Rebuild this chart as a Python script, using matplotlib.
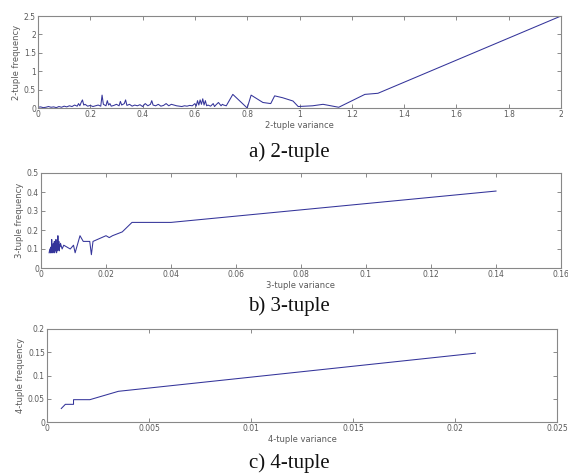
import matplotlib
matplotlib.use("Agg")
import matplotlib.pyplot as plt

# ---- data: 2-tuple ----
x2 = [0.00, 0.01, 0.02, 0.03, 0.04, 0.05, 0.06, 0.07, 0.08, 0.09, 0.10, 0.11,
      0.12, 0.13, 0.14, 0.15, 0.155, 0.16, 0.165, 0.17, 0.175, 0.18, 0.19, 0.20,
      0.21, 0.22, 0.23, 0.24, 0.245, 0.25, 0.26, 0.265, 0.27, 0.275, 0.28, 0.29,
      0.30, 0.31, 0.315, 0.32, 0.33, 0.335, 0.34, 0.35, 0.36, 0.37, 0.38, 0.39,
      0.40, 0.41, 0.42, 0.43, 0.435, 0.44, 0.45, 0.46, 0.47, 0.48, 0.49, 0.50,
      0.51, 0.52, 0.53, 0.54, 0.55, 0.56, 0.57, 0.58, 0.59, 0.60, 0.605, 0.61,
      0.615, 0.62, 0.625, 0.63, 0.635, 0.64, 0.645, 0.65, 0.66, 0.67, 0.675,
      0.68, 0.69, 0.70, 0.705, 0.71, 0.72, 0.745, 0.80, 0.815, 0.86, 0.89,
      0.905, 0.935, 0.975, 0.995, 1.05, 1.09, 1.15, 1.25, 1.30, 2.00]
y2 = [0.02, 0.03, 0.01, 0.02, 0.04, 0.02, 0.03, 0.01, 0.04, 0.02, 0.05, 0.03,
      0.06, 0.04, 0.08, 0.05, 0.12, 0.06, 0.15, 0.22, 0.08, 0.10, 0.05, 0.07,
      0.04, 0.06, 0.08, 0.05, 0.35, 0.10, 0.06, 0.20, 0.08, 0.12, 0.05, 0.07,
      0.10, 0.06, 0.18, 0.08, 0.12, 0.22, 0.07, 0.10, 0.05, 0.08, 0.06, 0.09,
      0.04, 0.12, 0.06, 0.10, 0.20, 0.08, 0.06, 0.10, 0.05, 0.07, 0.12, 0.06,
      0.10, 0.08, 0.06, 0.05, 0.04, 0.06, 0.05, 0.07, 0.06, 0.12, 0.05, 0.20,
      0.08, 0.22, 0.10, 0.25, 0.08, 0.20, 0.06, 0.08, 0.05, 0.12, 0.04, 0.08,
      0.15, 0.06, 0.10, 0.08, 0.06, 0.37, 0.00, 0.35, 0.15, 0.12,
      0.33, 0.28, 0.19, 0.04, 0.06, 0.10, 0.02, 0.37, 0.40, 2.50]

# ---- data: 3-tuple ----
x3 = [0.0025, 0.0027, 0.0029, 0.0030, 0.0031, 0.0032, 0.0033, 0.0034, 0.0035,
      0.0036, 0.0037, 0.0038, 0.0039, 0.0040, 0.0041, 0.0042, 0.0043, 0.0044,
      0.0045, 0.0046, 0.0047, 0.0048, 0.0049, 0.0050, 0.0051, 0.0052, 0.0053,
      0.0054, 0.0055, 0.0056, 0.0057, 0.0058, 0.0060, 0.0065, 0.0070, 0.0080,
      0.0090, 0.0100, 0.0105, 0.0120, 0.0130, 0.0150, 0.0155, 0.0160, 0.0200,
      0.0210, 0.0220, 0.0250, 0.0280, 0.0400, 0.1400]
y3 = [0.08, 0.10, 0.08, 0.11, 0.08, 0.09, 0.15, 0.08, 0.12, 0.09, 0.08, 0.13,
      0.10, 0.09, 0.14, 0.08, 0.11, 0.12, 0.09, 0.15, 0.10, 0.08, 0.12, 0.13,
      0.09, 0.17, 0.10, 0.12, 0.14, 0.09, 0.12, 0.11, 0.13, 0.10, 0.12, 0.11,
      0.10, 0.12, 0.08, 0.17, 0.14, 0.14, 0.07, 0.14, 0.17, 0.16, 0.17, 0.19,
      0.24, 0.24, 0.405]

# ---- data: 4-tuple ----
x4 = [0.0007, 0.0009, 0.0013, 0.0013, 0.0021, 0.0035, 0.0210]
y4 = [0.029, 0.038, 0.038, 0.048, 0.048, 0.066, 0.148]

panels = [
    dict(x=x2, y=y2, xlim=(0, 2), ylim=(0, 2.5),
         xticks=[0, 0.2, 0.4, 0.6, 0.8, 1, 1.2, 1.4, 1.6, 1.8, 2],
         xticklabels=["0", "0.2", "0.4", "0.6", "0.8", "1", "1.2", "1.4", "1.6", "1.8", "2"],
         yticks=[0, 0.5, 1, 1.5, 2, 2.5],
         yticklabels=["0", "0.5", "1", "1.5", "2", "2.5"],
         xlabel="2-tuple variance", ylabel="2-tuple frequency",
         caption="a) 2-tuple",
         rect=[38/568, 1-108/476, 523/568, 92/476], cap_y=152, xl_y=125),
    dict(x=x3, y=y3, xlim=(0, 0.16), ylim=(0, 0.5),
         xticks=[0, 0.02, 0.04, 0.06, 0.08, 0.1, 0.12, 0.14, 0.16],
         xticklabels=["0", "0.02", "0.04", "0.06", "0.08", "0.1", "0.12", "0.14", "0.16"],
         yticks=[0, 0.1, 0.2, 0.3, 0.4, 0.5],
         yticklabels=["0", "0.1", "0.2", "0.3", "0.4", "0.5"],
         xlabel="3-tuple variance", ylabel="3-tuple frequency",
         caption="b) 3-tuple",
         rect=[41/568, 1-268/476, 520/568, 95/476], cap_y=306, xl_y=285),
    dict(x=x4, y=y4, xlim=(0, 0.025), ylim=(0, 0.2),
         xticks=[0, 0.005, 0.01, 0.015, 0.02, 0.025],
         xticklabels=["0", "0.005", "0.01", "0.015", "0.02", "0.025"],
         yticks=[0, 0.05, 0.1, 0.15, 0.2],
         yticklabels=["0", "0.05", "0.1", "0.15", "0.2"],
         xlabel="4-tuple variance", ylabel="4-tuple frequency",
         caption="c) 4-tuple",
         rect=[47/568, 1-422/476, 510/568, 93/476], cap_y=463, xl_y=440),
]

fig = plt.figure(figsize=(5.68, 4.76), dpi=100)
fig.patch.set_facecolor("white")

tick_col = "#5a5a5a"
for p in panels:
    ax = fig.add_axes(p["rect"])
    ax.plot(p["x"], p["y"], color="#34349a", lw=0.75)
    ax.set_xlim(*p["xlim"])
    ax.set_ylim(*p["ylim"])
    ax.set_xticks(p["xticks"])
    ax.set_xticklabels(p["xticklabels"])
    ax.set_yticks(p["yticks"])
    ax.set_yticklabels(p["yticklabels"])
    ax.tick_params(direction="in", length=3, width=0.6, colors="#777777",
                   labelcolor=tick_col, labelsize=5.5, pad=1.5,
                   top=True, right=True)
    for s in ax.spines.values():
        s.set_color("#888888")
        s.set_linewidth(0.8)
    ax.set_ylabel(p["ylabel"], fontsize=6, color=tick_col, labelpad=2)
    x0, y0, w, h = p["rect"]
    fig.text(x0 + w / 2, 1 - p["xl_y"] / 476, p["xlabel"], ha="center",
             va="center", fontsize=6, color=tick_col)
    fig.text(289 / 568, 1 - p["cap_y"] / 476, p["caption"], ha="center",
             va="center", fontsize=15, family="Liberation Serif", color="#111111")

fig.savefig("out.png", dpi=100)
